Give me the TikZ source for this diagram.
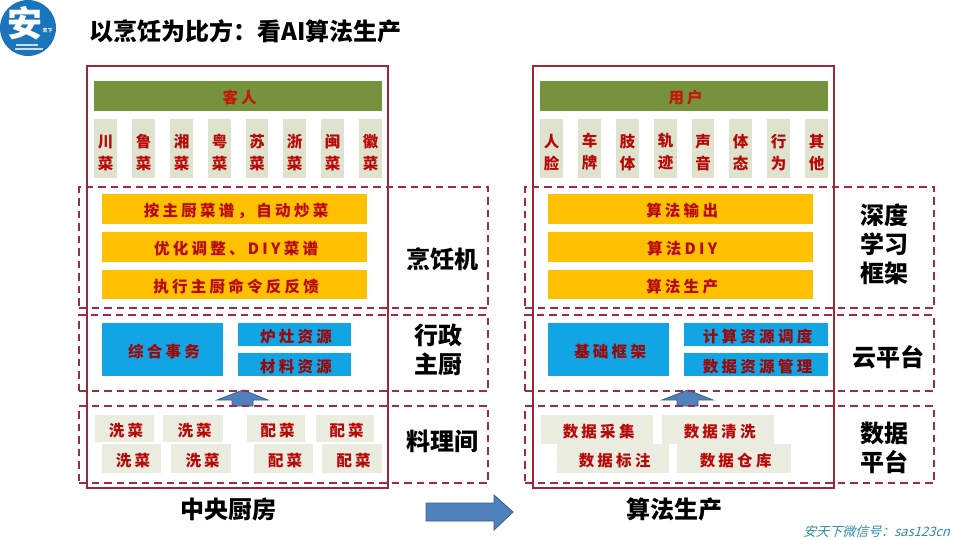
\documentclass[tikz,border=0pt]{standalone}
\usepackage{fontspec}
\setmainfont{Noto Sans CJK SC}
\newfontfamily\spacedfont[LetterSpace=21]{Noto Sans CJK SC}
\newfontfamily\slantfont[FakeSlant=0.3]{Noto Sans CJK SC}
\definecolor{frameRed}{HTML}{A32638}
\definecolor{dashRed}{HTML}{A3284A}
\definecolor{txtRed}{HTML}{B80808}
\definecolor{oliveBar}{HTML}{76923C}
\definecolor{paleGreen}{HTML}{DDE3CC}
\definecolor{paleGray}{HTML}{EAECE0}
\definecolor{amberBar}{HTML}{FFC000}
\definecolor{skyBar}{HTML}{12A5E6}
\definecolor{arrowBlue}{HTML}{4F81BD}
\definecolor{arrowEdge}{HTML}{385D8A}
\definecolor{logoBlue}{HTML}{1B75BC}
\definecolor{markTeal}{HTML}{2F8CA8}
\newcommand\bx[7]{%
  \pgfmathsetmacro\bw{#5-#3}\pgfmathsetmacro\bh{#6-#4}%
  \node (#1) [#2, minimum width=\bw pt, minimum height=\bh pt] at ({(#3+#5)/2},{(#4+#6)/2}) {#7};}
\newcommand\spc[1]{\raisebox{-7.5pt}[0pt][0pt]{\spacedfont\bfseries\fontsize{15.5}{18}\selectfont #1\kern-3.25pt}}
\newcommand\vtx[2]{\rule{0pt}{20.5pt}#1\\#2}
\tikzset{
  barbox/.style={inner sep=0pt, outer sep=0pt, text=txtRed, align=center},
  olive/.style={barbox, fill=oliveBar, text=txtRed!85!orange},
  pale/.style={barbox, fill=paleGreen, font=\bfseries\fontsize{15.5}{22}\selectfont},
  palegray/.style={barbox, fill=paleGray},
  amber/.style={barbox, fill=amberBar},
  sky/.style={barbox, fill=skyBar, text=txtRed!85!black},
  zone/.style={draw=dashRed, line width=1.5pt, dash pattern=on 7.5pt off 5pt, fill=none, inner sep=0pt},
  outerframe/.style={draw=frameRed, line width=1.8pt, fill=none, inner sep=0pt},
  sidelabel/.style={font=\bfseries\fontsize{24}{29}\selectfont, text=black, align=center, inner sep=0pt},
  flow/.style={fill=arrowBlue, draw=arrowEdge, line width=0.8pt, line join=miter}
}
\begin{document}
\begin{tikzpicture}[x=1pt,y=-1pt]
\useasboundingbox (0,0) rectangle (960,540);
\fill[white] (0,0) rectangle (960,540);
% logo
\node (logo) [circle, fill=logoBlue, minimum size=56pt, inner sep=0pt] at (28,28) {};
\node (logomark) [text=white, font=\bfseries\fontsize{35}{35}\selectfont, inner sep=0pt] at (24.5,23) {安};
\node (logosmall) [text=white, font=\bfseries\fontsize{5}{5}\selectfont, inner sep=0pt] at (47.5,31) {天下};
\fill[white!75!logoBlue] (16,44.5) rectangle (38,46);
\fill[white!75!logoBlue] (15,48.5) rectangle (43,50);
% title
\node (title) [anchor=west, inner sep=0pt, font=\bfseries\fontsize{24}{28}\selectfont] at (89,31) {以烹饪为比方：看AI算法生产};
% left column
\bx{guest}{olive}{94}{81}{382}{111}{\spc{客人}}
\bx{la}{pale}{94}{119}{117}{178}{\vtx{川}{菜}}
\bx{lb}{pale}{132}{119}{155}{178}{\vtx{鲁}{菜}}
\bx{lc}{pale}{170}{119}{193}{178}{\vtx{湘}{菜}}
\bx{ld}{pale}{208}{119}{231}{178}{\vtx{粤}{菜}}
\bx{le}{pale}{246}{119}{268}{178}{\vtx{苏}{菜}}
\bx{lf}{pale}{283}{119}{306}{178}{\vtx{浙}{菜}}
\bx{lg}{pale}{321}{119}{344}{178}{\vtx{闽}{菜}}
\bx{lh}{pale}{359}{119}{382}{178}{\vtx{徽}{菜}}
\bx{ly1}{amber}{102}{194}{367}{224}{\spc{按主厨菜谱，自动炒菜}}
\bx{ly2}{amber}{102}{232}{367}{262}{\spc{优化调整、DIY菜谱}}
\bx{ly3}{amber}{102}{270}{367}{299}{\spc{执行主厨命令反反馈}}
\bx{lb1}{sky}{102}{323}{223}{376}{\spc{综合事务}}
\bx{lb2}{sky}{238}{323}{351}{346}{\spc{炉灶资源}}
\bx{lb3}{sky}{238}{353}{351}{376}{\spc{材料资源}}
\bx{lw1}{palegray}{95}{415}{154}{442}{\spc{洗菜}}
\bx{lw2}{palegray}{163}{415}{223}{442}{\spc{洗菜}}
\bx{lw3}{palegray}{247}{415}{305}{442}{\spc{配菜}}
\bx{lw4}{palegray}{316}{415}{374}{442}{\spc{配菜}}
\bx{lw5}{palegray}{102}{444}{161}{473}{\spc{洗菜}}
\bx{lw6}{palegray}{171}{444}{231}{473}{\spc{洗菜}}
\bx{lw7}{palegray}{254}{444}{313}{473}{\spc{配菜}}
\bx{lw8}{palegray}{322}{444}{382}{473}{\spc{配菜}}
\draw[flow] (243,390) -- (268,400) -- (253,400) -- (253,406) -- (232,406) -- (232,400) -- (217,400) -- cycle;
\bx{lz1}{zone}{79}{187}{488}{308}{}
\bx{lz2}{zone}{79}{315}{488}{391}{}
\bx{lz3}{zone}{79}{406}{488}{483}{}
\bx{lframe}{outerframe}{87}{66}{388}{488}{}
% right column
\bx{user}{olive}{540}{81}{828}{111}{\spc{用户}}
\bx{ra}{pale}{540}{119}{563}{178}{\vtx{人}{脸}}
\bx{rb}{pale}{578}{119}{601}{178}{\vtx{车}{牌}}
\bx{rc}{pale}{616}{119}{639}{178}{\vtx{肢}{体}}
\bx{rd}{pale}{654}{119}{677}{178}{\vtx{轨}{迹}}
\bx{re}{pale}{692}{119}{714}{178}{\vtx{声}{音}}
\bx{rf}{pale}{729}{119}{752}{178}{\vtx{体}{态}}
\bx{rg}{pale}{767}{119}{790}{178}{\vtx{行}{为}}
\bx{rh}{pale}{805}{119}{828}{178}{\vtx{其}{他}}
\bx{ry1}{amber}{548}{194}{813}{224}{\spc{算法输出}}
\bx{ry2}{amber}{548}{232}{813}{262}{\spc{算法DIY}}
\bx{ry3}{amber}{548}{270}{813}{299}{\spc{算法生产}}
\bx{rb1}{sky}{548}{323}{669}{376}{\spc{基础框架}}
\bx{rb2}{sky}{684}{323}{828}{346}{\spc{计算资源调度}}
\bx{rb3}{sky}{684}{353}{828}{376}{\spc{数据资源管理}}
\bx{rw1}{palegray}{541}{415}{653}{444}{\spc{数据采集}}
\bx{rw2}{palegray}{662}{415}{774}{444}{\spc{数据清洗}}
\bx{rw3}{palegray}{557}{444}{669}{473}{\spc{数据标注}}
\bx{rw4}{palegray}{677}{444}{791}{473}{\spc{数据仓库}}
\draw[flow] (688,390) -- (713,400) -- (698,400) -- (698,406) -- (677,406) -- (677,400) -- (662,400) -- cycle;
\bx{rz1}{zone}{525}{187}{934}{308}{}
\bx{rz2}{zone}{525}{315}{934}{391}{}
\bx{rz3}{zone}{525}{406}{934}{483}{}
\bx{rframe}{outerframe}{533}{66}{834}{488}{}
% side labels
\node (s1) [sidelabel] at (442,259) {烹饪机};
\node (s2) [sidelabel] at (438,350) {行政\\主厨};
\node (s3) [sidelabel] at (442,441) {料理间};
\node (s4) [sidelabel] at (884,244) {深度\\学习\\框架};
\node (s5) [sidelabel] at (888,357) {云平台};
\node (s6) [sidelabel] at (884,448) {数据\\平台};
\node (c1) [sidelabel] at (228,510) {中央厨房};
\node (c2) [sidelabel] at (674,509) {算法生产};
% transition arrow
\draw[flow] (426,503) -- (494,503) -- (494,495) -- (513,512) -- (494,530) -- (494,521) -- (426,521) -- cycle;
% watermark
\node (mark) [anchor=east, inner sep=0pt, text=markTeal, font=\slantfont\fontsize{13}{15}\selectfont] at (950,532) {安天下微信号：sas123cn};
\end{tikzpicture}
\end{document}
